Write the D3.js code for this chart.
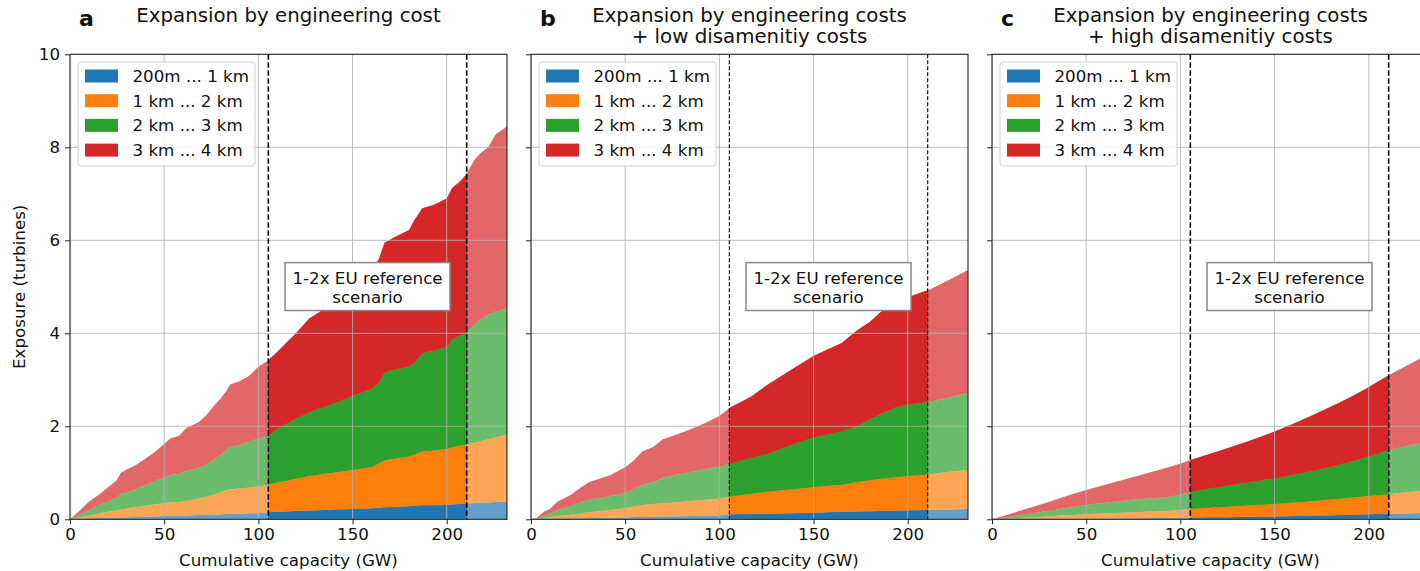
<!DOCTYPE html>
<html>
<head>
<meta charset="utf-8">
<script src="https://cdn.jsdelivr.net/npm/d3@7"></script>
<style>
  html, body { margin: 0; padding: 0; background: #fff; }
  svg { display: block; font-family: "DejaVu Sans", sans-serif; }
</style>
</head>
<body>
<svg id="chart" width="1420" height="571"></svg>
<script>
// Exposure of residents (turbines) by distance band along the cumulative capacity expansion.
// Each array holds the cumulative exposure up to the band's outer distance.

const bandLabels = ["200m ... 1 km", "1 km ... 2 km", "2 km ... 3 km", "3 km ... 4 km"];
const bandColors = ["#1f77b4", "#ff7f0e", "#2ca02c", "#d62728"];

const xTicks = [0, 50, 100, 150, 200];
const yTicks = [0, 2, 4, 6, 8, 10];
const scenarioBounds = [105.3, 210.6];

// a: engineering cost only
const aCapacity = [0,5,10,15,20,25,27,30,35,40,45,50,53,58,62,68,72,76,80,83,85,90,95,100,105,110,115,120,127,135,140,150,160,164,167,172,180,183,187,193,200,203,207,210,215,218,222,226,232];
const aWithin1km = [0,0.01,0.02,0.03,0.03,0.04,0.04,0.045,0.05,0.055,0.06,0.07,0.07,0.075,0.08,0.09,0.095,0.1,0.11,0.115,0.12,0.12,0.13,0.13,0.15,0.16,0.17,0.18,0.19,0.2,0.21,0.22,0.24,0.25,0.26,0.27,0.28,0.29,0.3,0.3,0.31,0.32,0.33,0.34,0.35,0.36,0.36,0.37,0.38];
const aWithin2km = [0,0.04,0.08,0.12,0.16,0.19,0.21,0.23,0.26,0.29,0.32,0.35,0.36,0.37,0.4,0.44,0.48,0.53,0.58,0.63,0.64,0.66,0.68,0.71,0.74,0.79,0.83,0.87,0.93,0.98,1.0,1.06,1.12,1.2,1.27,1.3,1.35,1.4,1.46,1.48,1.51,1.55,1.58,1.6,1.65,1.68,1.72,1.76,1.82];
const aWithin3km = [0,0.1,0.2,0.3,0.38,0.48,0.55,0.57,0.65,0.73,0.82,0.9,0.95,0.98,1.05,1.1,1.17,1.27,1.38,1.5,1.55,1.6,1.66,1.74,1.78,1.95,2.05,2.17,2.3,2.42,2.49,2.65,2.8,2.95,3.15,3.22,3.28,3.38,3.57,3.63,3.7,3.88,3.95,4.0,4.2,4.3,4.4,4.47,4.54];
const aWithin4km = [0,0.18,0.38,0.52,0.68,0.85,1.0,1.07,1.17,1.3,1.45,1.62,1.73,1.8,1.97,2.08,2.22,2.42,2.6,2.76,2.9,2.97,3.08,3.28,3.41,3.6,3.8,4.0,4.32,4.52,4.65,4.9,5.35,5.6,5.95,6.06,6.22,6.44,6.69,6.76,6.9,7.13,7.26,7.4,7.75,7.88,8.0,8.28,8.45];

// b: engineering + low disamenity costs
const bCapacity = [0,3,7,10,14,21,27,31,42,50,55,59,65,70,80,86,93,100,106,117,125,138,150,158,165,173,180,186,195,203,212,222,232];
const bWithin1km = [0,0,0.01,0.01,0.015,0.02,0.025,0.03,0.035,0.04,0.05,0.05,0.055,0.06,0.065,0.07,0.075,0.08,0.11,0.115,0.12,0.13,0.14,0.15,0.16,0.17,0.175,0.18,0.19,0.195,0.2,0.21,0.22];
const bWithin2km = [0,0.01,0.03,0.05,0.07,0.1,0.13,0.15,0.2,0.24,0.28,0.31,0.33,0.34,0.38,0.4,0.42,0.44,0.49,0.55,0.59,0.64,0.69,0.72,0.74,0.8,0.84,0.87,0.91,0.94,0.97,1.02,1.06];
const bWithin3km = [0,0.02,0.08,0.12,0.2,0.28,0.38,0.42,0.5,0.56,0.65,0.74,0.8,0.9,0.98,1.03,1.08,1.13,1.2,1.32,1.4,1.6,1.76,1.83,1.89,2.0,2.15,2.27,2.43,2.48,2.53,2.62,2.72];
const bWithin4km = [0,0.03,0.17,0.22,0.38,0.52,0.7,0.8,0.95,1.12,1.28,1.46,1.56,1.72,1.86,1.96,2.08,2.22,2.41,2.64,2.88,3.21,3.51,3.66,3.79,4.06,4.25,4.47,4.68,4.82,4.95,5.15,5.36];

// c: engineering + high disamenity costs
const cCapacity = [0,25,50,75,100,105,125,150,175,200,210,220,232];
const cWithin1km = [0,0.007,0.015,0.025,0.035,0.04,0.045,0.06,0.08,0.11,0.115,0.125,0.14];
const cWithin2km = [0,0.05,0.11,0.15,0.2,0.22,0.27,0.33,0.41,0.5,0.54,0.58,0.63];
const cWithin3km = [0,0.15,0.31,0.42,0.53,0.58,0.72,0.88,1.08,1.35,1.48,1.57,1.68];
const cWithin4km = [0,0.31,0.63,0.91,1.2,1.27,1.53,1.89,2.33,2.84,3.08,3.3,3.56];

const panels = [
  { letter: "a", title: ["Expansion by engineering cost"], capacity: aCapacity,
    bands: [aWithin1km, aWithin2km, aWithin3km, aWithin4km], curve: d3.curveLinear,
    left: 70, dashWidth: 1.6, dash: "5.5,2.5", yLabels: true },
  { letter: "b", title: ["Expansion by engineering costs", "+ low disamenitiy costs"], capacity: bCapacity,
    bands: [bWithin1km, bWithin2km, bWithin3km, bWithin4km], curve: d3.curveLinear,
    left: 531, dashWidth: 1.1, dash: "4,2", yLabels: false },
  { letter: "c", title: ["Expansion by engineering costs", "+ high disamenitiy costs"], capacity: cCapacity,
    bands: [cWithin1km, cWithin2km, cWithin3km, cWithin4km], curve: d3.curveMonotoneX,
    left: 992, dashWidth: 1.6, dash: "5.5,2.5", yLabels: false }
];

const svg = d3.select("#chart");
const plotW = 437, plotTop = 54.3, plotBottom = 519.3;
const gridColor = "#b0b0b0";
const axisColor = "#222";
const labelSize = 16.7;
const titleSize = 19.8;

const y = d3.scaleLinear().domain([0, 10]).range([plotBottom, plotTop]);

panels.forEach((p, pi) => {
  const x = d3.scaleLinear().domain([0, 232]).range([p.left, p.left + plotW]);
  const g = svg.append("g");

  // clip to the plot area and to the reference-scenario window
  const defs = g.append("defs");
  defs.append("clipPath").attr("id", "plot" + pi)
    .append("rect").attr("x", p.left).attr("y", plotTop).attr("width", plotW).attr("height", plotBottom - plotTop);
  defs.append("clipPath").attr("id", "window" + pi)
    .append("rect").attr("x", x(scenarioBounds[0])).attr("y", plotTop)
    .attr("width", x(scenarioBounds[1]) - x(scenarioBounds[0])).attr("height", plotBottom - plotTop);

  const rows = p.capacity.map((c, i) => ({ c, tops: p.bands.map(b => b[i]) }));
  const areas = p.bands.map((_, k) => d3.area()
    .curve(p.curve)
    .x(d => x(d.c))
    .y0(d => y(k === 0 ? 0 : d.tops[k - 1]))
    .y1(d => y(d.tops[k])));

  // faded layers across the whole range, full colour inside the scenario window
  const faded = g.append("g").attr("clip-path", `url(#plot${pi})`);
  const strong = g.append("g").attr("clip-path", `url(#window${pi})`);
  areas.forEach((a, k) => {
    faded.append("path").datum(rows).attr("d", a).attr("fill", bandColors[k]).attr("fill-opacity", 0.7);
    strong.append("path").datum(rows).attr("d", a).attr("fill", bandColors[k]);
  });

  // grid on top of the areas
  const grid = g.append("g").attr("clip-path", `url(#plot${pi})`)
    .attr("stroke", gridColor).attr("stroke-width", 1).attr("stroke-opacity", 0.85);
  xTicks.forEach(t => grid.append("line").attr("x1", x(t)).attr("x2", x(t)).attr("y1", plotTop).attr("y2", plotBottom));
  yTicks.forEach(t => grid.append("line").attr("x1", p.left).attr("x2", p.left + plotW).attr("y1", y(t)).attr("y2", y(t)));

  // scenario boundaries
  scenarioBounds.forEach(v => g.append("line")
    .attr("x1", x(v)).attr("x2", x(v)).attr("y1", plotTop).attr("y2", plotBottom)
    .attr("stroke", "#000").attr("stroke-width", p.dashWidth).attr("stroke-dasharray", p.dash));

  // annotation box
  const ann = g.append("g");
  const cx = x((scenarioBounds[0] + scenarioBounds[1]) / 2);
  ann.append("rect").attr("x", cx - 82.5).attr("y", y(5.52)).attr("width", 165).attr("height", y(4.49) - y(5.52))
    .attr("fill", "#fff").attr("stroke", "#888").attr("stroke-width", 1.5);
  ann.append("text").attr("x", cx).attr("y", y(5.0) - 3).attr("text-anchor", "middle")
    .attr("font-size", labelSize).attr("fill", "#111").text("1-2x EU reference");
  ann.append("text").attr("x", cx).attr("y", y(5.0) + 16).attr("text-anchor", "middle")
    .attr("font-size", labelSize).attr("fill", "#111").text("scenario");

  // axes
  const xAxis = d3.axisBottom(x).tickValues(xTicks).tickSize(5).tickPadding(4).tickFormat(d3.format("d"));
  const gx = g.append("g").attr("transform", `translate(0,${plotBottom})`).call(xAxis);
  const yAxis = d3.axisLeft(y).tickValues(yTicks).tickSize(5).tickPadding(5)
    .tickFormat(p.yLabels ? d3.format("d") : () => "");
  const gy = g.append("g").attr("transform", `translate(${p.left},0)`).call(yAxis);
  [gx, gy].forEach(ax => {
    ax.select(".domain").remove();
    ax.selectAll(".tick line").attr("stroke", axisColor).attr("stroke-width", 1);
    ax.selectAll(".tick text").attr("font-size", labelSize).attr("fill", "#111")
      .attr("font-family", "DejaVu Sans, sans-serif");
  });

  // frame
  g.append("rect").attr("x", p.left).attr("y", plotTop).attr("width", plotW).attr("height", plotBottom - plotTop)
    .attr("fill", "none").attr("stroke", axisColor).attr("stroke-width", 1.1);

  // legend
  const lg = g.append("g").attr("transform", `translate(${p.left + 8},62)`);
  lg.append("rect").attr("width", 177).attr("height", 104).attr("rx", 3)
    .attr("fill", "#fff").attr("fill-opacity", 0.85).attr("stroke", "#d0d0d0");
  bandLabels.forEach((lab, k) => {
    const ry = 14 + k * 24.7;
    lg.append("rect").attr("x", 7).attr("y", ry - 6.5).attr("width", 33).attr("height", 13).attr("fill", bandColors[k]);
    lg.append("text").attr("x", 54.5).attr("y", ry + 6).attr("font-size", labelSize).attr("fill", "#111").text(lab);
  });

  // titles
  const mid = p.left + plotW / 2;
  p.title.forEach((line, i) => svg.append("text").attr("x", mid).attr("y", 21.5 + i * 21.8)
    .attr("text-anchor", "middle").attr("font-size", titleSize).attr("fill", "#111").text(line));
  svg.append("text").attr("x", p.left + 9).attr("y", 26).attr("font-size", 22).attr("font-weight", "bold")
    .attr("fill", "#111").text(p.letter);

  svg.append("text").attr("x", mid).attr("y", 566).attr("text-anchor", "middle")
    .attr("font-size", labelSize).attr("fill", "#111").text("Cumulative capacity (GW)");
});

svg.append("text").attr("transform", `translate(25,${(plotTop + plotBottom) / 2}) rotate(-90)`)
  .attr("text-anchor", "middle").attr("font-size", labelSize).attr("fill", "#111").text("Exposure (turbines)");
</script>
</body>
</html>
